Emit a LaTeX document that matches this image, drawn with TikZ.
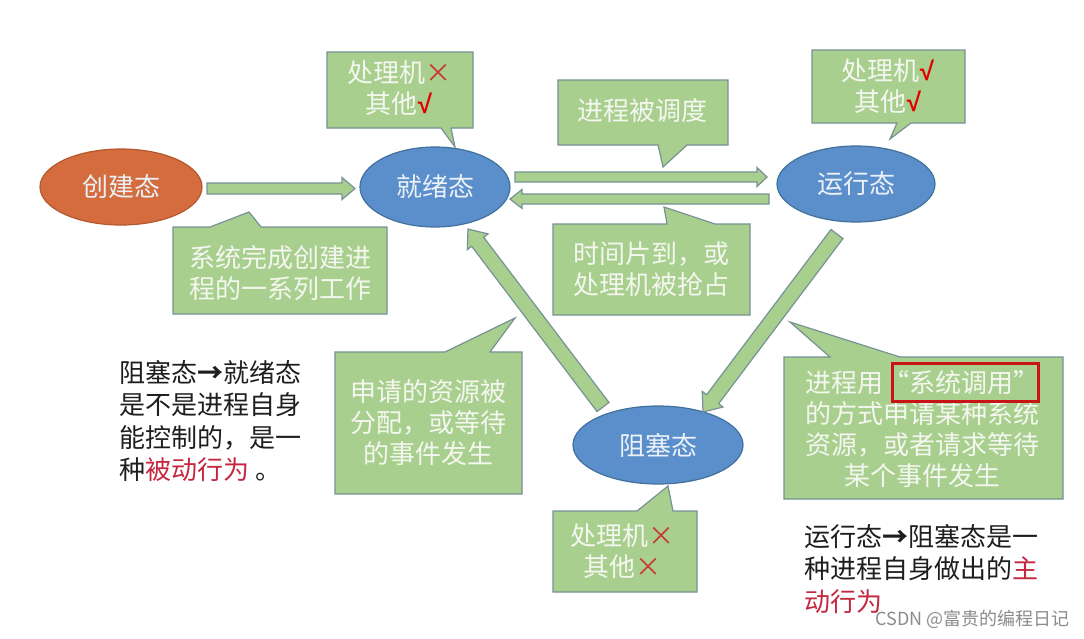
\documentclass[tikz,border=0pt]{standalone}
\usepackage{fontspec}
\setmainfont{Noto Sans CJK SC}
\newfontfamily\tickfont{Liberation Sans}
\usetikzlibrary{calc,shapes.geometric}
\definecolor{boxgreen}{RGB}{169,207,142}
\definecolor{boxline}{RGB}{118,146,150}
\definecolor{ellblue}{RGB}{91,143,203}
\definecolor{ellblueline}{RGB}{65,113,156}
\definecolor{ellorange}{RGB}{212,108,62}
\definecolor{ellorangeline}{RGB}{180,88,45}
\definecolor{boxtext}{RGB}{244,247,240}
\definecolor{elltext}{RGB}{236,241,248}
\definecolor{markred}{RGB}{200,55,50}
\definecolor{tickred}{RGB}{225,0,0}
\definecolor{notered}{RGB}{196,40,64}
\definecolor{framered}{RGB}{200,20,20}
\definecolor{inkblack}{RGB}{30,30,30}
\newcommand\tick{\textcolor{tickred}{\tickfont\bfseries √}}
\newcommand\cross{\textcolor{markred}{×}}
\newcommand\blockarrow[5]{%
 \draw[arrowshape] let \p1=(#1), \p2=(#2), \n1={atan2(\y2-\y1,\x2-\x1)}, \n2={veclen(\x2-\x1,\y2-\y1)-#5} in
  ($(\p1)+(\n1+90:#3pt)$) -- ($(\p1)+(\n1:\n2)+(\n1+90:#3pt)$) -- ($(\p1)+(\n1:\n2)+(\n1+90:#4pt)$) -- (\p2)
  -- ($(\p1)+(\n1:\n2)+(\n1-90:#4pt)$) -- ($(\p1)+(\n1:\n2)+(\n1-90:#3pt)$) -- ($(\p1)+(\n1-90:#3pt)$) -- cycle;}
\tikzset{
  boxsty/.style={fill=boxgreen, draw=boxline, line width=1.2pt, line join=miter},
  arrowshape/.style={fill=boxgreen, draw=boxline, line width=1.2pt, line join=miter},
  statesty/.style={ellipse, line width=1.2pt, text=elltext, inner sep=0pt, font=\fontsize{26}{31}\selectfont},
  btext/.style={text=boxtext, align=center, inner sep=0pt, font=\fontsize{26}{31}\selectfont},
  ntext/.style={text=inkblack, align=left, inner sep=0pt, font=\fontsize{26}{32.5}\selectfont},
}
\begin{document}
\begin{tikzpicture}[x=1pt,y=-1pt]
\useasboundingbox (0,0) rectangle (1084,638);
\fill[white] (0,0) rectangle (1084,638);

% callout boxes
\draw[boxsty] (327,52) -- (473,52) -- (473,128) -- (451,128) -- (455,147) -- (441,128) -- (327,128) -- cycle;
\draw[boxsty] (558,80) -- (728,80) -- (728,145) -- (687,145) -- (663,167) -- (658,145) -- (558,145) -- cycle;
\draw[boxsty] (812,50) -- (965,50) -- (965,123) -- (911,123) -- (890,139) -- (897,123) -- (812,123) -- cycle;
\draw[boxsty] (173,227) -- (210,227) -- (249,212) -- (261,227) -- (387,227) -- (387,314) -- (173,314) -- cycle;
\draw[boxsty] (553,224) -- (667,224) -- (664,207) -- (715,224) -- (750,224) -- (750,315) -- (553,315) -- cycle;
\draw[boxsty] (335,352) -- (445,352) -- (515,318) -- (490,352) -- (522,352) -- (522,494) -- (335,494) -- cycle;
\draw[boxsty] (784,357) -- (830,357) -- (790,322) -- (900,357) -- (1063,357) -- (1063,499) -- (784,499) -- cycle;
\draw[boxsty] (553,511) -- (637,511) -- (668,486) -- (673,511) -- (697,511) -- (697,592) -- (553,592) -- cycle;

% states
\node[statesty, fill=ellorange, draw=ellorangeline, minimum width=162pt, minimum height=76pt] (create) at (121,187) {创建态};
\node[statesty, fill=ellblue, draw=ellblueline, minimum width=150pt, minimum height=80pt] (ready) at (435,187) {就绪态};
\node[statesty, fill=ellblue, draw=ellblueline, minimum width=158pt, minimum height=76pt] (run) at (856,184) {运行态};
\node[statesty, fill=ellblue, draw=ellblueline, minimum width=170pt, minimum height=78pt] (block) at (658,445) {阻塞态};

% arrow end points
\coordinate (a1s) at (207,188.5); \coordinate (a1e) at (355,188.5);
\coordinate (a2s) at (515,177);   \coordinate (a2e) at (767,177);
\coordinate (a3s) at (769,199);   \coordinate (a3e) at (510,199);
\coordinate (a4s) at (603,407);   \coordinate (a4e) at (468,229);
\coordinate (a5s) at (837,234);   \coordinate (a5e) at (703,412);
\blockarrow{a1s}{a1e}{5.5}{11}{13}
\blockarrow{a2s}{a2e}{5}{9.5}{10}
\blockarrow{a3s}{a3e}{5}{9.5}{12}
\blockarrow{a4s}{a4e}{7.5}{13}{16}
\blockarrow{a5s}{a5e}{7.5}{13}{16}

% callout texts
\node[btext] (t1) at (399,88.5) {处理机\cross\\其他\tick};
\node[btext] (t2) at (642,111) {进程被调度};
\node[btext] (t3) at (888,86.5) {处理机\tick\\其他\tick};
\node[btext] (t4) at (280,273) {系统完成创建进\\程的一系列工作};
\node[btext] (t5) at (651,269) {时间片到，或\\处理机被抢占};
\node[btext] (t6) at (428,423) {申请的资源被\\分配，或等待\\的事件发生};
\node[btext] (t7) at (922,429.5) {进程用“系统调用”\\的方式申请某种系统\\资源，或者请求等待\\某个事件发生};
\node[btext] (t8) at (622,551) {处理机\cross\\其他\cross};
\draw[framered, line width=3pt] (892,363) rectangle (1038,401);

% notes
\node[ntext, anchor=north west] (n1) at (119,360) {阻塞态\textbf{→}就绪态\\是不是进程自身\\能控制的，是一\\种\textcolor{notered}{被动行为} 。};
\node[ntext, anchor=north west] (n2) at (804,524) {运行态\textbf{→}阻塞态是一\\种进程自身做出的\textcolor{notered}{主}\\\textcolor{notered}{动行为}};
\node[anchor=east, inner sep=0pt, text=black!45, font=\fontsize{18}{22}\selectfont] (wm) at (1070,619) {CSDN @富贵的编程日记};
\end{tikzpicture}
\end{document}
